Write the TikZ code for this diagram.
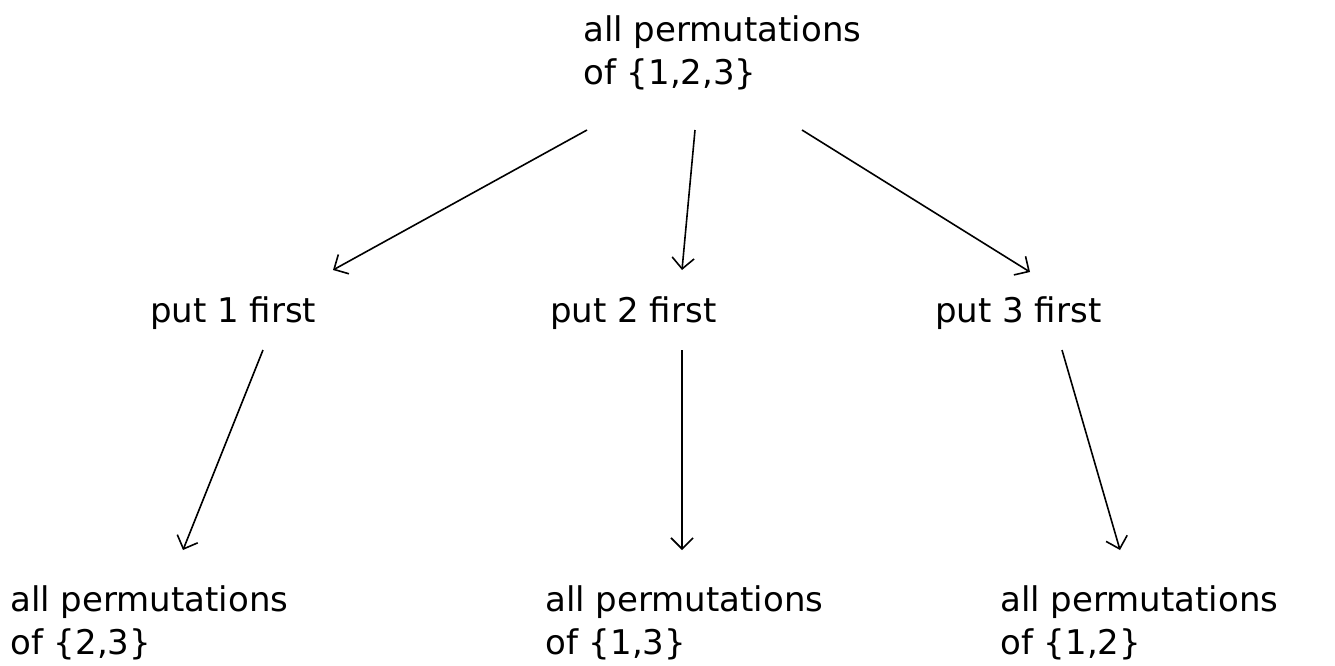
\documentclass[tikz,border=0pt]{standalone}
\usepackage{fontspec}
\setmainfont{DejaVu Sans}
\usetikzlibrary{arrows.meta}
\begin{document}
\begin{tikzpicture}[x=1pt,y=-1pt,
  lbl/.style={inner sep=0pt,anchor=base west,align=left,font=\fontsize{34}{43}\selectfont},
  arr/.style={line width=1.6pt,-{Straight Barb[length=11pt,width=22pt,line width=1.6pt]}}]
\useasboundingbox (0,0) rectangle (1335,665);
\node[lbl] (top) at (583,84) {all permutations\\of \{1,2,3\}};
\node[lbl] (p1) at (150,322) {put 1 first};
\node[lbl] (p2) at (550,322) {put 2 first};
\node[lbl] (p3) at (935,322) {put 3 first};
\node[lbl] (b1) at (10,654) {all permutations\\of \{2,3\}};
\node[lbl] (b2) at (545,654) {all permutations\\of \{1,3\}};
\node[lbl] (b3) at (1000,654) {all permutations\\of \{1,2\}};
\coordinate (t1) at (587,130); \coordinate (e1) at (333,270);
\coordinate (t2) at (695,130); \coordinate (e2) at (682,270);
\coordinate (t3) at (802,130); \coordinate (e3) at (1030,272);
\coordinate (m1) at (263,350); \coordinate (f1) at (183,550);
\coordinate (m2) at (682,350); \coordinate (f2) at (682,550);
\coordinate (m3) at (1062,350); \coordinate (f3) at (1120,550);
\draw[arr] (t1) -- (e1);
\draw[arr] (t2) -- (e2);
\draw[arr] (t3) -- (e3);
\draw[arr] (m1) -- (f1);
\draw[arr] (m2) -- (f2);
\draw[arr] (m3) -- (f3);
\end{tikzpicture}
\end{document}
